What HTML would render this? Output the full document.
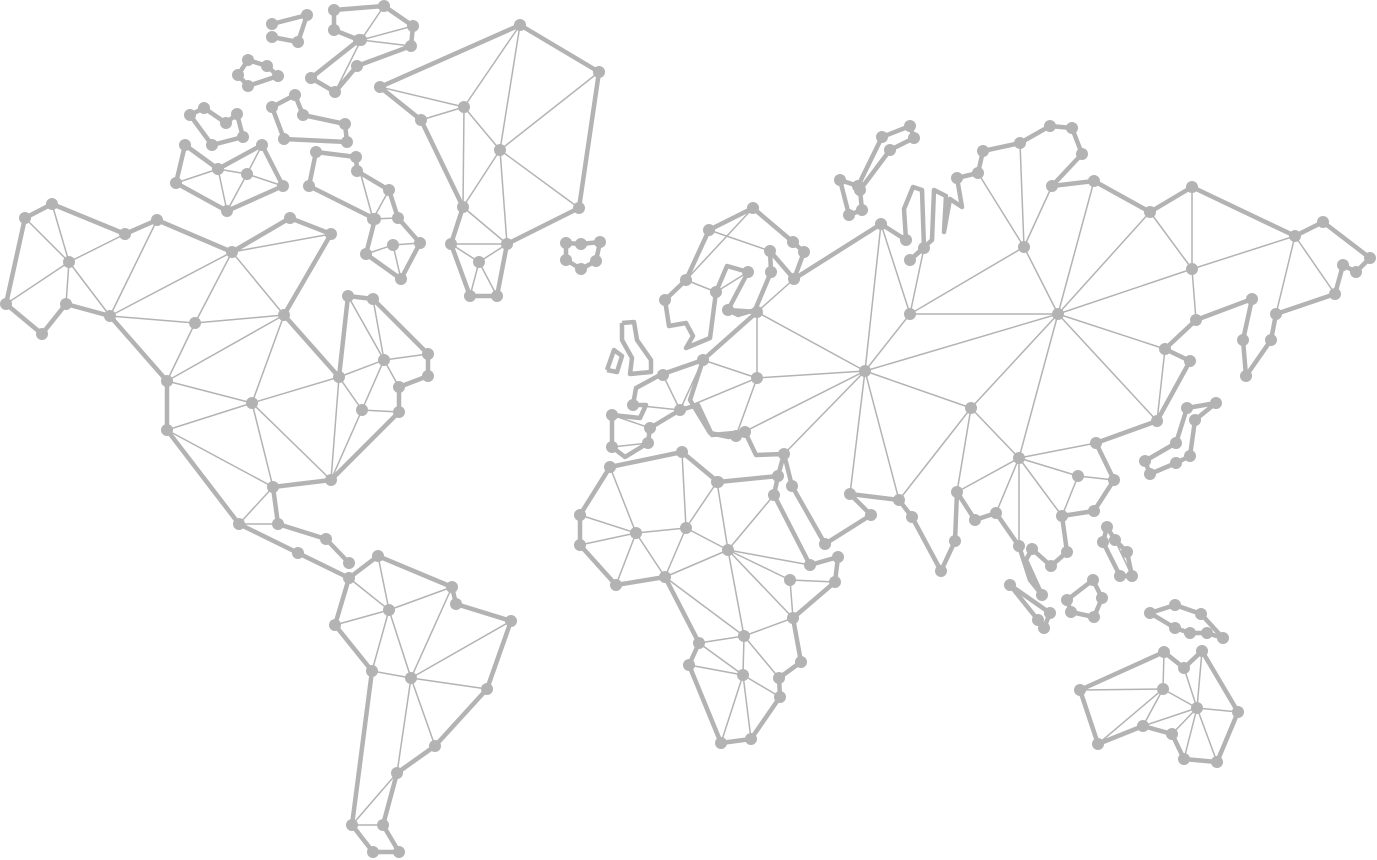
<!DOCTYPE html>
<html><head><meta charset="utf-8"><title>Polygonal world map</title>
<style>
html,body{margin:0;padding:0;background:#fff;}
svg{display:block;}
</style></head>
<body>
<svg id="map" width="1377" height="860" viewBox="0 0 1377 860" xmlns="http://www.w3.org/2000/svg">
<g id="thin" stroke="#b3b3b3" stroke-width="1.5" fill="none"></g>
<g id="thick" stroke="#b3b3b3" stroke-width="4.5" fill="none" stroke-linejoin="round"></g>
<g id="dots" fill="#b3b3b3"></g>
</svg>
<script>
const outlines = [
 ["north-america",[[25,218],[52,204],[125,234],[157,220],[232,252],[290,218],[331,234],[284,315],[339,377],[348,296],[373,299],[428,354],[428,376],[399,387],[399,412],[331,480],[273,487],[278,524],[326,539],[349,563]]],
 ["north-america-west",[[25,218],[6,304],[42,334],[66,304],[110,316],[167,381],[167,430],[239,524],[298,553],[349,578]]],
 ["south-america",[[349,578],[378,556],[452,587],[456,604],[511,621],[487,689],[435,746],[397,773],[383,825],[399,852],[373,852],[352,825],[372,671],[335,625],[349,578]]],
 ["greenland",[[380,87],[421,120],[463,207],[451,244],[470,296],[497,296],[507,244],[579,208],[599,72],[520,25],[380,87]]],
 ["island-1",[[272,24],[307,15],[298,42],[272,37]]],
 ["island-2",[[334,10],[384,6],[413,26],[411,46],[357,66],[335,92],[311,78],[359,40],[334,30],[334,10]]],
 ["island-3",[[248,60],[267,66],[278,76],[248,86],[238,75],[248,60]]],
 ["island-4",[[190,115],[204,108],[226,123],[237,114],[243,137],[212,145],[190,115]]],
 ["island-5",[[272,107],[295,95],[303,115],[345,124],[347,142],[284,139],[272,107]]],
 ["island-6",[[185,145],[218,169],[262,145],[283,186],[227,211],[176,183],[185,145]]],
 ["island-7",[[316,152],[356,157],[357,171],[389,190],[398,218],[420,243],[401,279],[366,254],[375,219],[309,186],[316,152]]],
 ["iceland",[[566,243],[581,244],[600,242],[596,261],[581,269],[566,260],[566,243]]],
 ["svalbard",[[840,180],[858,186],[882,137],[910,126],[914,138],[890,150],[860,190],[862,210],[849,215],[840,180]]],
 ["ireland",[[607,370],[614,350],[622,356],[617,372],[607,370]]],
 ["britain",[[622,323],[634,322],[637,340],[651,360],[651,372],[630,374],[632,358],[622,340],[622,323]]],
 ["scandinavia",[[665,300],[669,326],[686,323],[693,336],[686,348],[710,338],[716,292],[727,266],[748,272],[728,310],[738,315],[755,310],[771,272],[770,251],[794,279],[804,252],[793,242],[753,208],[709,230],[686,280],[665,300]]],
 ["eurasia-north",[[794,279],[881,224],[906,240],[904,209],[913,187],[922,190],[924,248],[910,260],[932,240],[934,190],[946,196],[944,232],[950,199],[962,207],[957,178],[978,173],[983,151],[1020,143],[1050,126],[1072,128],[1082,154],[1052,186],[1094,181],[1150,212],[1192,187],[1295,236],[1323,222],[1370,258],[1356,272],[1343,265],[1335,294],[1276,314],[1271,340],[1246,376],[1243,340],[1252,299],[1196,320],[1165,349],[1190,361],[1157,421],[1096,443],[1114,480],[1094,511],[1062,516],[1067,552],[1051,566],[1032,549],[1026,560],[1042,595],[1030,580],[1019,546],[996,513],[975,520],[957,492],[955,541],[941,571],[912,517],[899,500],[850,494],[871,515],[825,544],[792,486],[784,454],[756,455],[745,432],[729,437],[710,433],[690,400],[703,360],[757,312],[728,310]]],
 ["europe-south",[[703,360],[660,375],[636,388],[633,405],[646,405],[640,418],[612,415],[612,447],[625,457],[648,443],[650,428],[680,410],[698,405],[712,435],[745,432]]],
 ["africa",[[610,467],[682,452],[718,482],[778,476],[784,454]]],
 ["africa-coast",[[610,467],[580,515],[580,545],[616,585],[665,577],[699,643],[689,665],[721,743],[751,739],[780,697],[779,678],[801,662],[793,618],[835,582],[838,557],[810,565],[774,495],[778,476]]],
 ["madagascar",[[1107,527],[1115,540],[1127,552],[1132,576],[1120,576],[1103,542],[1107,527]]],
 ["japan",[[1187,408],[1216,403],[1195,420],[1190,456],[1176,463],[1150,474],[1145,461],[1176,443],[1187,408]]],
 ["sumatra",[[1010,585],[1050,613],[1044,628],[1038,620],[1010,585]]],
 ["borneo",[[1071,612],[1067,600],[1093,580],[1102,598],[1094,617],[1071,612]]],
 ["new-guinea",[[1150,613],[1175,605],[1201,614],[1223,638],[1207,633],[1190,633],[1175,628],[1150,613]]],
 ["australia",[[1080,690],[1164,652],[1184,668],[1202,651],[1238,712],[1217,762],[1184,759],[1172,734],[1143,726],[1098,744],[1080,690]]]
];
const inner = [
 [25,218,69,262],[52,204,69,262],[125,234,69,262],[6,304,69,262],[66,304,69,262],[69,262,110,316],[110,316,157,220],[110,316,232,252],[110,316,195,323],[195,323,284,315],[195,323,232,252],[232,252,284,315],[232,252,331,234],[195,323,167,381],[167,381,284,315],[167,381,252,403],[167,430,252,403],[252,403,284,315],[252,403,339,377],[252,403,331,480],[252,403,273,487],[167,430,273,487],[339,377,331,480],[339,377,384,360],[384,360,348,296],[384,360,373,299],[384,360,428,354],[384,360,399,387],[384,360,331,480],[362,410,339,377],[362,410,399,412],[273,487,239,524],[239,524,278,524],
 [349,578,389,610],[378,556,389,610],[452,587,389,610],[335,625,389,610],[389,610,372,671],[389,610,411,678],[452,587,411,678],[511,621,411,678],[487,689,411,678],[372,671,411,678],[411,678,435,746],[411,678,397,773],[397,773,352,825],[383,825,352,825],
 [380,87,464,107],[421,120,464,107],[464,107,520,25],[464,107,463,207],[464,107,500,150],[500,150,520,25],[500,150,599,72],[500,150,579,208],[500,150,463,207],[500,150,507,244],[463,207,507,244],[451,244,507,244],[479,262,451,244],[479,262,507,244],[479,262,470,296],[479,262,497,296],
 [218,169,227,211],[218,169,176,183],[218,169,247,174],[247,174,262,145],[247,174,283,186],[247,174,227,211],[361,40,384,6],[361,40,411,46],[361,40,335,92],[361,40,413,26],
 [373,219,389,190],[373,219,356,157],[373,219,398,218],[393,245,420,243],[393,245,366,254],[393,245,401,279],
 [757,312,757,378],[757,312,703,360],[757,312,865,371],[757,312,794,279],[703,360,757,378],[703,360,663,375],[663,375,680,410],[703,360,680,410],[680,410,757,378],[757,378,736,436],[757,378,865,371],[736,436,865,371],[784,454,865,371],[716,292,748,272],[709,230,770,251],[686,280,716,292],[686,280,753,208],
 [865,371,881,224],[865,371,910,314],[910,314,881,224],[910,314,924,248],[910,314,1024,247],[910,314,1058,314],[1024,247,1052,186],[1024,247,978,173],[1024,247,1020,143],[1024,247,1058,314],[1058,314,1094,181],[1058,314,1150,212],[1058,314,1192,269],[1058,314,1165,349],[1058,314,1157,421],[1058,314,971,408],[1058,314,1019,458],[1058,314,865,371],[1192,269,1150,212],[1192,269,1192,187],[1192,269,1295,236],[1192,269,1196,320],[1295,236,1335,294],[1295,236,1276,314],[865,371,971,408],[865,371,850,494],[865,371,899,500],[971,408,899,500],[971,408,957,492],[971,408,1019,458],[1019,458,1096,443],[1019,458,1078,476],[1078,476,1114,480],[1078,476,1062,516],[1019,458,1062,516],[1019,458,996,513],[1019,458,957,492],[1019,458,1019,546],[1157,421,1165,349],
 [610,467,636,533],[580,515,636,533],[580,545,636,533],[616,585,636,533],[636,533,665,577],[636,533,686,528],[682,452,686,528],[686,528,717,482],[686,528,665,577],[686,528,728,550],[717,482,728,550],[774,495,728,550],[728,550,665,577],[728,550,810,565],[728,550,790,580],[728,550,793,618],[728,550,744,636],[665,577,744,636],[744,636,699,643],[744,636,793,618],[744,636,743,675],[744,636,779,678],[699,643,743,675],[689,665,743,675],[743,675,721,743],[743,675,751,739],[743,675,780,697],[790,580,793,618],[790,580,835,582],
 [1080,690,1163,689],[1163,689,1164,652],[1163,689,1197,708],[1163,689,1143,726],[1098,744,1163,689],[1197,708,1184,668],[1197,708,1202,651],[1197,708,1238,712],[1197,708,1217,762],[1197,708,1184,759],[1197,708,1172,734],[1143,726,1197,708],
 [612,447,648,443],[612,415,650,428],[633,405,680,410],[1176,463,1190,456],[1115,540,1132,576]
];
const noDotShapes=new Set(['ireland','britain','europe-south']);
const noDotPts=new Set(['904,209','913,187','922,190','924,248','932,240','934,190','946,196','944,232','950,199','962,207','669,326','686,323','693,336','686,348','710,338','727,266','738,315','755,310','690,400','710,433','729,437','784,454','756,455','612,415','612,447','625,457','648,443','650,428','698,405','712,435','636,388','633,405','646,405','640,418','660,375','1026,560','1030,580']);
const NS="http://www.w3.org/2000/svg";
const thick=document.getElementById('thick'),thin=document.getElementById('thin'),dots=document.getElementById('dots');
const seen=new Set();
function addDot(x,y,force){const k=x+','+y;if(seen.has(k))return;if(!force&&noDotPts.has(k))return;seen.add(k);
 const c=document.createElementNS(NS,'circle');c.setAttribute('cx',x);c.setAttribute('cy',y);c.setAttribute('r',6);
 
 
 dots.appendChild(c);}
outlines.forEach(o=>{const p=document.createElementNS(NS,'polyline');
 p.setAttribute('points',o[1].map(a=>a.join(',')).join(' '));
 
 
 thick.appendChild(p);
 if(!noDotShapes.has(o[0])) o[1].forEach(a=>addDot(a[0],a[1],false));});
inner.forEach(e=>{const l=document.createElementNS(NS,'line');
 l.setAttribute('x1',e[0]);l.setAttribute('y1',e[1]);l.setAttribute('x2',e[2]);l.setAttribute('y2',e[3]);
 
 
 thin.appendChild(l);addDot(e[0],e[1],true);addDot(e[2],e[3],true);});
</script>
</body></html>
